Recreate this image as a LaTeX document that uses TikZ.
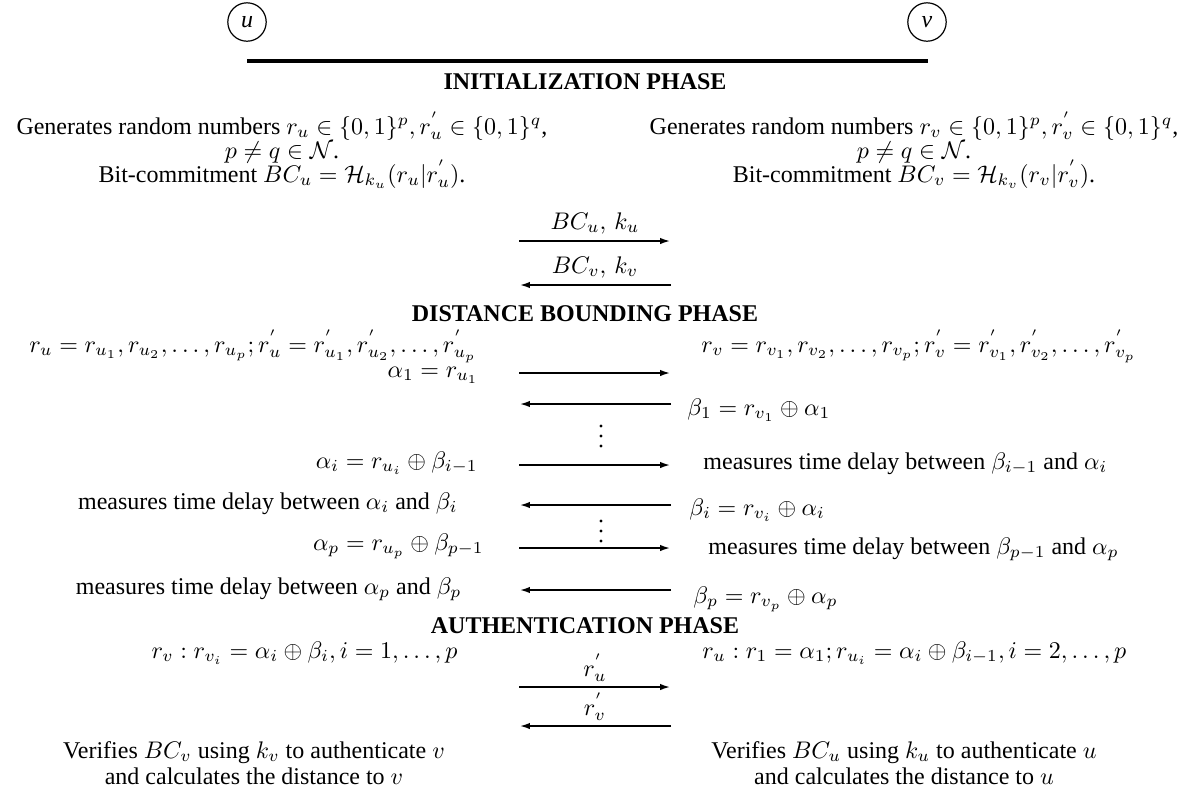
\documentclass[tikz,border=0pt]{standalone}
\usepackage{fontspec}
\setmainfont{Liberation Serif}
\usetikzlibrary{arrows.meta}
\tikzset{
  party/.style={draw, circle, line width=0.5pt, minimum size=16pt, inner sep=0pt, font=\itshape},
  rulebar/.style={line width=1.4pt},
  phase/.style={font=\bfseries, anchor=base, inner sep=0pt},
  txt/.style={anchor=base, inner sep=0pt},
  txtl/.style={anchor=base east, inner sep=0pt},
  txtr/.style={anchor=base west, inner sep=0pt},
  msg/.style={line width=1.2pt, -{Latex[length=4.5pt,width=2.6pt]}},
  msglabel/.style={anchor=base, inner sep=0pt},
  dot/.style={fill=black},
}

\begin{document}
\begin{tikzpicture}[x=0.4167pt,y=-0.4167pt]
\useasboundingbox (0,0) rectangle (1196,794);
% parties
\node[party] (u) at (247,22) {u};
\node[party] (v) at (927,22) {v};
\coordinate (rl) at (247,61);
\coordinate (rr) at (928,61);
\draw[rulebar] (rl) -- (rr);

% initialization
\node[phase] (init) at (585,89) {INITIALIZATION PHASE};
\node[txt] (ul1) at (282,134) {Generates random numbers $r_u \in \{0,1\}^p, r^{'}_u \in \{0,1\}^q$,};
\node[txt] (ul2) at (282,158) {$p \neq q \in \mathcal{N}$.};
\node[txt] (ul3) at (282,182) {Bit-commitment $BC_u = \mathcal{H}_{k_u}(r_u|r^{'}_u)$.};
\node[txt] (vl1) at (914,134) {Generates random numbers $r_v \in \{0,1\}^p, r^{'}_v \in \{0,1\}^q$,};
\node[txt] (vl2) at (914,158) {$p \neq q \in \mathcal{N}$.};
\node[txt] (vl3) at (914,182) {Bit-commitment $BC_v = \mathcal{H}_{k_v}(r_v|r^{'}_v)$.};
\coordinate (m1l) at (519,241);
\coordinate (m1r) at (671,241);
\coordinate (m2l) at (519,285);
\coordinate (m2r) at (671,285);
\draw[msg] (m1l) -- (m1r);
\draw[msg] (m2r) -- (m2l);
\node[msglabel] (bcu) at (595,229) {$BC_u,\, k_u$};
\node[msglabel] (bcv) at (595,273) {$BC_v,\, k_v$};

% distance bounding
\node[phase] (dist) at (585,321) {DISTANCE BOUNDING PHASE};
\node[txtl] (ru) at (477,352) {$r_u = r_{u_1}, r_{u_2}, \ldots, r_{u_p}; r^{'}_u = r^{'}_{u_1}, r^{'}_{u_2}, \ldots, r^{'}_{u_p}$};
\node[txtr] (rv) at (701,352) {$r_v = r_{v_1}, r_{v_2}, \ldots, r_{v_p}; r^{'}_v = r^{'}_{v_1}, r^{'}_{v_2}, \ldots, r^{'}_{v_p}$};
\node[txtl] (a1) at (479,377) {$\alpha_1 = r_{u_1}$};
\node[txtr] (b1) at (687,415) {$\beta_1 = r_{v_1} \oplus \alpha_1$};
\node[txtl] (ai) at (478,468) {$\alpha_i = r_{u_i} \oplus \beta_{i-1}$};
\node[txtr] (mi) at (703,469) {measures time delay between $\beta_{i-1}$ and $\alpha_i$};
\node[txtl] (ni) at (458,509) {measures time delay between $\alpha_i$ and $\beta_i$};
\node[txtr] (bi) at (689,515) {$\beta_i = r_{v_i} \oplus \alpha_i$};
\node[txtl] (ap) at (484,550) {$\alpha_p = r_{u_p} \oplus \beta_{p-1}$};
\node[txtr] (mp) at (708,554) {measures time delay between $\beta_{p-1}$ and $\alpha_p$};
\node[txtl] (np) at (462,594) {measures time delay between $\alpha_p$ and $\beta_p$};
\node[txtr] (bp) at (693,603) {$\beta_p = r_{v_p} \oplus \alpha_p$};
% vertical dots between the rounds
\foreach \y in {426,436,446,521,531,541}
  \fill[dot] (601,\y) circle (1.7);
\foreach \n/\y in {1/373, 3/465, 5/548} {
  \coordinate (s\n l) at (519,\y);
  \coordinate (s\n r) at (671,\y);
  \draw[msg] (s\n l) -- (s\n r);
}
\foreach \n/\y in {2/404, 4/505, 6/590} {
  \coordinate (s\n l) at (519,\y);
  \coordinate (s\n r) at (671,\y);
  \draw[msg] (s\n r) -- (s\n l);
}

% authentication
\node[phase] (auth) at (585,633) {AUTHENTICATION PHASE};
\node[txtl] (cv) at (458,658) {$r_v : r_{v_i} = \alpha_i \oplus \beta_i, i = 1, \ldots, p$};
\node[txtr] (cu) at (702,658) {$r_u : r_1 = \alpha_1; r_{u_i} = \alpha_i \oplus \beta_{i-1}, i = 2, \ldots, p$};
\coordinate (f1l) at (519,687);
\coordinate (f1r) at (671,687);
\coordinate (f2l) at (519,726);
\coordinate (f2r) at (671,726);
\draw[msg] (f1l) -- (f1r);
\draw[msg] (f2r) -- (f2l);
\node[msglabel] (pu) at (595,676) {$r^{'}_u$};
\node[msglabel] (pv) at (595,715) {$r^{'}_v$};
\node[txt] (ver1) at (254,758) {Verifies $BC_v$ using $k_v$ to authenticate $v$};
\node[txt] (ver2) at (254,784) {and calculates the distance to $v$};
\node[txt] (veu1) at (904,758) {Verifies $BC_u$ using $k_u$ to authenticate $u$};
\node[txt] (veu2) at (904,784) {and calculates the distance to $u$};
\end{tikzpicture}
\end{document}
